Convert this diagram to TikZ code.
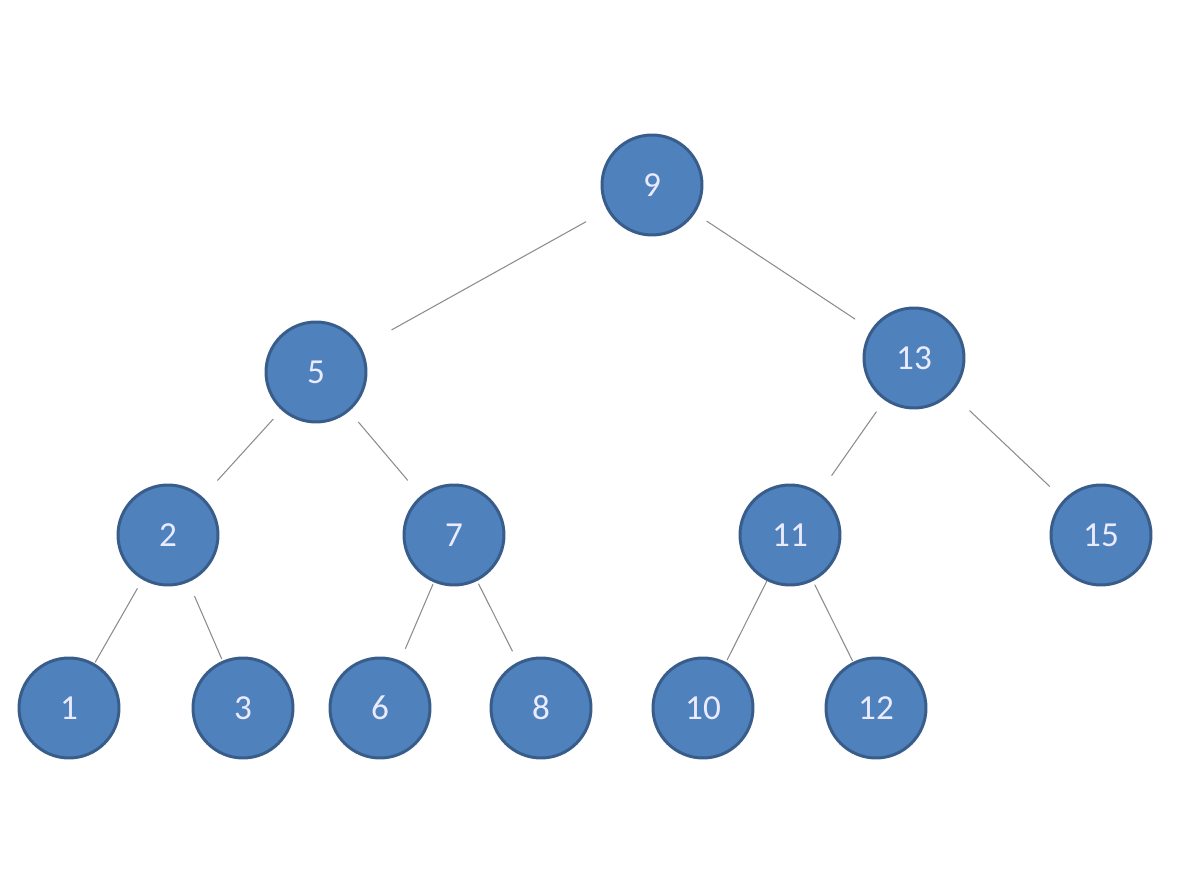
\documentclass[tikz,border=0pt]{standalone}
\usepackage{fontspec}
\setmainfont{Carlito}
\definecolor{nodefill}{HTML}{4F81BD}
\definecolor{nodeline}{HTML}{385D8A}
\definecolor{edgegray}{HTML}{8C8C8C}
\tikzset{
  keynode/.style={circle, fill=nodefill, draw=nodeline, line width=1.7pt,
    minimum size=2cm, inner sep=0pt, text=white!92!blue,
    font=\fontsize{20}{22}\selectfont},
  treeedge/.style={draw=edgegray, line width=0.6pt}
}
\begin{document}
\begin{tikzpicture}[x=0.02cm, y=-0.02cm]
\useasboundingbox (0,0) rectangle (1188,884);

%--- Узлы ---
\foreach \k/\px/\py in {9/652/185, 5/316/372, 13/914/358,
  2/168/535, 7/454/535, 11/790/535, 15/1101/535,
  1/69/708, 3/243/708, 6/380/708, 8/541/708, 10/703/708, 12/876/708}{
  \node[keynode] (n\k) at (\px,\py) {\k};
}

%--- Рёбра (зазоры у концов) ---
\foreach \a/\b/\s/\t in {9/5/24/35, 9/13/14/19, 5/2/12/22, 5/7/14/20,
  13/11/14/21, 13/15/25/19, 2/1/10/1, 2/3/15/2, 7/6/2/13, 7/8/3/12,
  11/10/0/2, 11/12/4/1}{
  \draw[treeedge, shorten <=\s*0.02cm, shorten >=\t*0.02cm] (n\a) -- (n\b);
}

\end{tikzpicture}
\end{document}
